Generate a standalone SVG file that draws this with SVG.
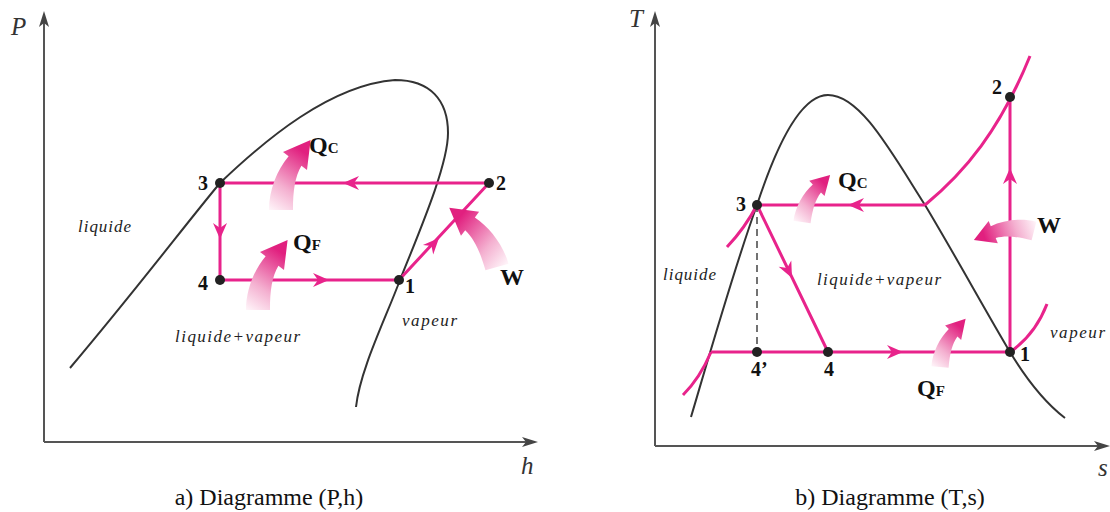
<svg xmlns="http://www.w3.org/2000/svg" xmlns:xlink="http://www.w3.org/1999/xlink" width="1110" height="512" viewBox="0 0 1110 512">
<style>
.axis{stroke:#555;stroke-width:2;fill:none}
.dome{stroke:#333;stroke-width:2;fill:none}
.cyc{stroke:#E8238B;stroke-width:3;fill:none}
.ah{fill:#E8238B}
.axh{fill:#444}
.dot{fill:#222}
.num{font-family:"Liberation Serif","Times New Roman",serif;font-weight:bold;font-size:20px;fill:#111}
.q{font-family:"Liberation Serif","Times New Roman",serif;font-weight:bold;font-size:24px;fill:#111}
.sub{font-size:15px}
.it{font-family:"Liberation Serif","Times New Roman",serif;font-style:italic;font-size:17px;fill:#222}
.axl{font-family:"Liberation Serif","Times New Roman",serif;font-style:italic;font-size:25px;fill:#333}
.cap{font-family:"Liberation Serif","Times New Roman",serif;font-size:24px;fill:#111}
</style>
<defs>
<linearGradient id="fatGrad" x1="0" y1="1" x2="0.4" y2="0">
<stop offset="0" stop-color="#FFF6FA"/>
<stop offset="0.4" stop-color="#F4B0D0"/>
<stop offset="1" stop-color="#E1207F"/>
</linearGradient>
<path id="fat" d="M0,75 C0,55 8,35 19.6,21.2 L14,17 L41.6,5 L38,35 L32.4,30.8 C26,42 24,55 24,75 Z" fill="url(#fatGrad)"/>
<path id="ah" class="ah" d="M0,0 L-16,-7 L-11,0 L-16,7 Z"/>
<path id="axh" class="axh" d="M0,0 L-16,-5 L-12,0 L-16,5 Z"/>
</defs>

<g id="ph-diagram">
<g id="ph-axes">
<line class="axis" x1="44" y1="442" x2="44" y2="16"/>
<use href="#axh" transform="translate(44,11) rotate(-90)"/>
<line class="axis" x1="44" y1="442" x2="532" y2="442"/>
<use href="#axh" transform="translate(538,442)"/>
<text class="axl" x="11" y="35">P</text>
<text class="axl" x="521" y="474">h</text>
</g>
<path id="ph-dome" class="dome" d="M70,368 C140,285 185,225 220,183 C265,140 330,85 395,80 C430,80 448,100 448,133 C448,165 420,230 400,280 C385,320 360,370 356,407"/>
<g id="ph-connectors">
<path class="cyc" d="M489,183 L220,183 L220,280 L399,280 L489,183"/>
<use href="#ah" transform="translate(343,183) rotate(180)"/>
<use href="#ah" transform="translate(220,239) rotate(90)"/>
<use href="#ah" transform="translate(329,280)"/>
<use href="#ah" transform="translate(439,238) rotate(-47)"/>
</g>
<g id="ph-heat">
<use href="#fat" transform="translate(269,135)"/>
<use href="#fat" transform="translate(246,235)"/>
<use href="#fat" transform="translate(497,267) rotate(-16) scale(-1,1) translate(-12,-75)"/>
</g>
<g id="ph-node-3"><circle class="dot" cx="220" cy="183" r="5"/><text class="num" x="198" y="190">3</text></g>
<g id="ph-node-2"><circle class="dot" cx="489" cy="183" r="5"/><text class="num" x="496" y="190">2</text></g>
<g id="ph-node-4"><circle class="dot" cx="220" cy="280" r="5"/><text class="num" x="198" y="290">4</text></g>
<g id="ph-node-1"><circle class="dot" cx="399" cy="280" r="5"/><text class="num" x="405" y="293">1</text></g>
<g id="ph-labels">
<text class="q" x="309" y="153">Q<tspan class="sub">C</tspan></text>
<text class="q" x="293" y="250">Q<tspan class="sub">F</tspan></text>
<text class="q" x="500" y="285">W</text>
<text class="it" x="78" y="232" textLength="53" lengthAdjust="spacing">liquide</text>
<text class="it" x="175" y="342" textLength="125" lengthAdjust="spacing">liquide+vapeur</text>
<text class="it" x="402" y="326" textLength="55" lengthAdjust="spacing">vapeur</text>
</g>
<text class="cap" x="269" y="505" text-anchor="middle">a) Diagramme (P,h)</text>
</g>

<g id="ts-diagram">
<g id="ts-axes">
<line class="axis" x1="655" y1="446" x2="655" y2="16"/>
<use href="#axh" transform="translate(655,11) rotate(-90)"/>
<line class="axis" x1="655" y1="446" x2="1104" y2="446"/>
<use href="#axh" transform="translate(1110,446)"/>
<text class="axl" x="629" y="27">T</text>
<text class="axl" x="1098" y="476">s</text>
</g>
<path id="ts-dome" class="dome" d="M691,417 C705,370 735,265 757,205 C775,150 800,95 828,95 C860,95 890,150 925,205 C955,255 985,310 1010,352 C1030,385 1048,405 1065,418"/>
<g id="ts-connectors">
<path class="cyc" d="M925,205 L757,205 L828,352"/>
<path class="cyc" d="M711,352 L1010,352 L1010,97"/>
<path class="cyc" d="M925,205 C965,172 1000,130 1030,56"/>
<path class="cyc" d="M727,247 Q745,228 757,205"/>
<path class="cyc" d="M683,395 Q700,378 711,352"/>
<path class="cyc" d="M1010,352 Q1035,335 1047,304"/>
<line x1="757" y1="205" x2="757" y2="352" stroke="#444" stroke-width="1.5" stroke-dasharray="7,5"/>
<use href="#ah" transform="translate(848,205) rotate(180)"/>
<use href="#ah" transform="translate(792,278) rotate(64)"/>
<use href="#ah" transform="translate(903,352)"/>
<use href="#ah" transform="translate(1010,168) rotate(-90)"/>
</g>
<g id="ts-heat">
<use href="#fat" transform="translate(802,222) rotate(8) scale(0.72) translate(-12,-75)"/>
<use href="#fat" transform="translate(940,367) rotate(5) scale(0.72) translate(-12,-75)"/>
<use href="#fat" transform="translate(1034,231) rotate(-75.6) scale(-0.8,0.8) translate(-12,-75)"/>
</g>
<g id="ts-node-3"><circle class="dot" cx="757" cy="205" r="5"/><text class="num" x="736" y="211">3</text></g>
<g id="ts-node-4p"><circle class="dot" cx="757" cy="352" r="5"/><text class="num" x="751" y="376">4’</text></g>
<g id="ts-node-4"><circle class="dot" cx="828" cy="352" r="5"/><text class="num" x="824" y="376">4</text></g>
<g id="ts-node-1"><circle class="dot" cx="1010" cy="352" r="5"/><text class="num" x="1020" y="361">1</text></g>
<g id="ts-node-2"><circle class="dot" cx="1010" cy="97" r="5"/><text class="num" x="992" y="94">2</text></g>
<g id="ts-labels">
<text class="q" x="838" y="188">Q<tspan class="sub">C</tspan></text>
<text class="q" x="917" y="396">Q<tspan class="sub">F</tspan></text>
<text class="q" x="1037" y="233">W</text>
<text class="it" x="663" y="280" textLength="53" lengthAdjust="spacing">liquide</text>
<text class="it" x="817" y="285" textLength="124" lengthAdjust="spacing">liquide+vapeur</text>
<text class="it" x="1050" y="338" textLength="55" lengthAdjust="spacing">vapeur</text>
</g>
<text class="cap" x="890" y="505" text-anchor="middle">b) Diagramme (T,s)</text>
</g>
</svg>
